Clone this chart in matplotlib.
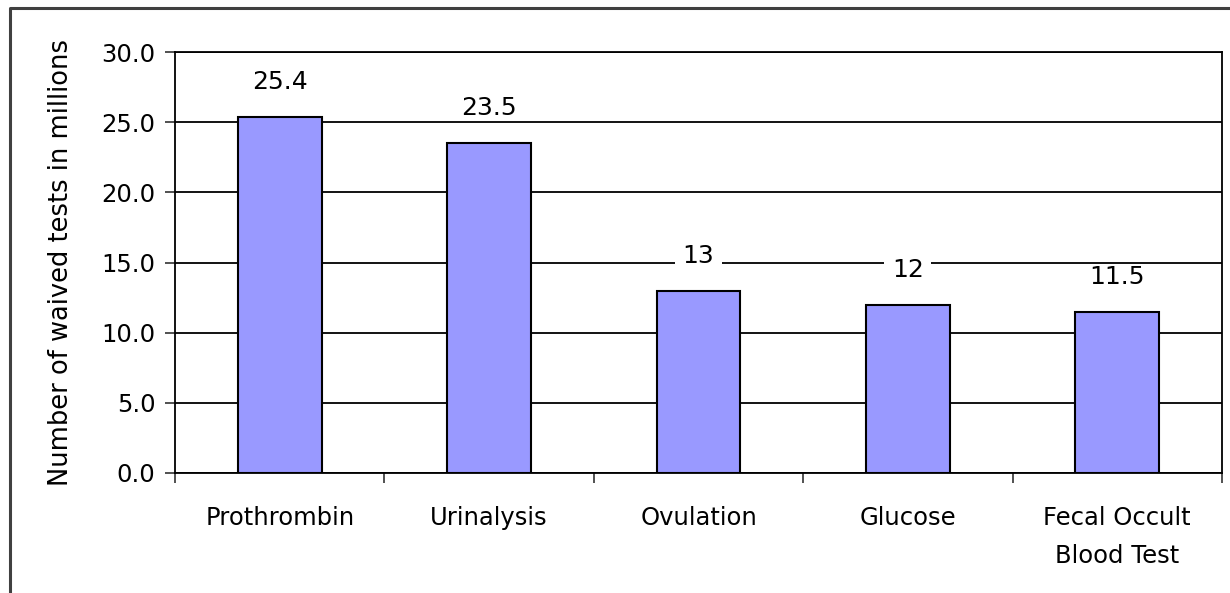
import matplotlib
matplotlib.use("Agg")
import matplotlib.pyplot as plt
from matplotlib.lines import Line2D
from matplotlib.path import Path
import numpy as np

categories = ["Prothrombin", "Urinalysis", "Ovulation", "Glucose", "Fecal Occult\nBlood Test"]
values = [25.4, 23.5, 13, 12, 11.5]
value_labels = ["25.4", "23.5", "13", "12", "11.5"]
y_ticks = [0, 5, 10, 15, 20, 25, 30]
y_label = "Number of waived tests in millions"

W, H = 1230, 593
fig = plt.figure(figsize=(W / 100, H / 100), dpi=100)
fig.patch.set_facecolor("white")

ax = fig.add_axes([175 / W, (H - 473) / H, (1222 - 175) / W, (473 - 52) / H])
x = np.arange(len(categories))

ax.set_axisbelow(True)
ax.yaxis.grid(True, color="black", linewidth=1.3)
bars = ax.bar(x, values, width=0.4, color="#9999FF", edgecolor="black", linewidth=1.5, zorder=3)

ax.set_xlim(-0.5, len(categories) - 0.5)
ax.set_ylim(0, 30)
ax.set_yticks(y_ticks)
ax.set_yticklabels([f"{v:.1f}" for v in y_ticks])

ax.set_xticks(x)
ax.set_xticklabels(categories, linespacing=1.7)
ax.set_xticks(np.arange(len(categories) + 1) - 0.5, minor=True)
ax.tick_params(axis="x", which="major", length=0, pad=24, labelsize=17.5)
ax.tick_params(axis="x", which="minor", length=7, width=1.2, color="#333333", direction="out")
ax.tick_params(axis="y", which="major", length=7, width=1.2, color="#333333", direction="out", pad=7, labelsize=17.5)

for s in ax.spines.values():
    s.set_color("black")
    s.set_linewidth(1.3)

ax.set_ylabel(y_label, fontsize=18.5, labelpad=20)


def label_box(x0, y0, width, height, mutation_size):
    # white backing that hugs the digits (ignores the font's descender space)
    px = 0.3 * mutation_size
    bottom = y0 + 0.12 * mutation_size
    top = y0 + height + 0.02 * mutation_size
    verts = [(x0 - px, bottom), (x0 + width + px, bottom),
             (x0 + width + px, top), (x0 - px, top), (x0 - px, bottom)]
    return Path(verts, closed=True)


for b, v, lab in zip(bars, values, value_labels):
    ax.annotate(lab, xy=(b.get_x() + b.get_width() / 2, v), xytext=(0, 20),
                textcoords="offset points", ha="center", va="baseline", fontsize=18,
                bbox=dict(boxstyle=label_box, facecolor="white", edgecolor="none"),
                zorder=4)

# outer frame (left and top edges)
fig.add_artist(Line2D([10 / W, 10 / W, 1.0], [0.0, 1 - 8 / H, 1 - 8 / H],
                      transform=fig.transFigure, color="#404040", linewidth=2.2))

fig.savefig("out.png", dpi=100, facecolor="white")
